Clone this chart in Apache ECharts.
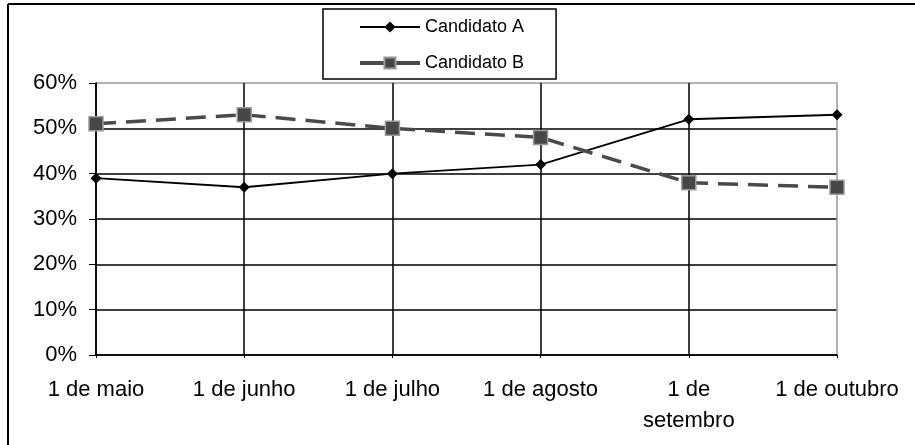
<!DOCTYPE html>
<html>
<head>
<meta charset="utf-8">
<script src="https://cdn.jsdelivr.net/npm/echarts@6/dist/echarts.min.js"></script>
<style>
html,body{margin:0;padding:0;background:#fff;}
#chart{width:915px;height:445px;}
</style>
</head>
<body>
<div id="chart"></div>
<script>
var categories = ['1 de maio', '1 de junho', '1 de julho', '1 de agosto', '1 de\nsetembro', '1 de outubro'];
var candidatoA = [39, 37, 40, 42, 52, 53];
var candidatoB = [51, 53, 50, 48, 38, 37];
var yTicks = [0, 10, 20, 30, 40, 50, 60];

var chart = echarts.init(document.getElementById('chart'), null, {renderer: 'canvas'});
var font = 'Liberation Sans, Arial, sans-serif';
chart.setOption({
  animation: false,
  backgroundColor: '#fff',
  graphic: [
    {type: 'line', shape: {x1: 8, y1: 4, x2: 915, y2: 4}, style: {stroke: '#000', lineWidth: 2}},
    {type: 'line', shape: {x1: 8, y1: 4, x2: 8, y2: 445}, style: {stroke: '#000', lineWidth: 2}}
  ],
  grid: {left: 96, right: 78, top: 83, bottom: 90, containLabel: false},
  legend: {
    left: 323, top: 9, orient: 'vertical',
    borderColor: '#000', borderWidth: 1.5,
    padding: [9, 32, 7, 35],
    itemWidth: 60, itemHeight: 14, itemGap: 18,
    textStyle: {fontFamily: font, fontSize: 18, color: '#000', lineHeight: 18},
    data: [
      {name: 'Candidato A'},
      {name: 'Candidato B', lineStyle: {type: 'solid', width: 4, color: '#4a4a4a'}}
    ]
  },
  xAxis: {
    type: 'category', data: categories, boundaryGap: false,
    axisLine: {lineStyle: {color: '#000', width: 1.5}},
    axisTick: {show: true, length: 3, lineStyle: {color: '#000'}},
    axisLabel: {interval: 0, fontFamily: font, fontSize: 22, color: '#000', margin: 19, lineHeight: 31},
    splitLine: {show: true, lineStyle: {color: ['#000', '#000', '#000', '#000', '#000', '#999'], width: 1.5}}
  },
  yAxis: {
    type: 'value', min: yTicks[0], max: yTicks[yTicks.length - 1], interval: 10,
    axisLine: {show: true, lineStyle: {color: '#000', width: 1.5}},
    axisTick: {show: true, length: 7, lineStyle: {color: '#000'}},
    axisLabel: {fontFamily: font, fontSize: 22, color: '#000', margin: 19, formatter: '{value}%'},
    splitLine: {show: true, lineStyle: {color: ['#000', '#000', '#000', '#000', '#000', '#000', '#999'], width: 1.5}}
  },
  series: [
    {
      name: 'Candidato A', type: 'line', data: candidatoA,
      symbol: 'diamond', symbolSize: 11,
      lineStyle: {color: '#000', width: 1.8},
      itemStyle: {color: '#000'}
    },
    {
      name: 'Candidato B', type: 'line', data: candidatoB,
      symbol: 'rect', symbolSize: 14,
      lineStyle: {color: '#4a4a4a', width: 3.5, type: [20, 10]},
      itemStyle: {color: '#474747', borderColor: '#9a9a9a', borderWidth: 1.5}
    }
  ]
});
</script>
</body>
</html>
